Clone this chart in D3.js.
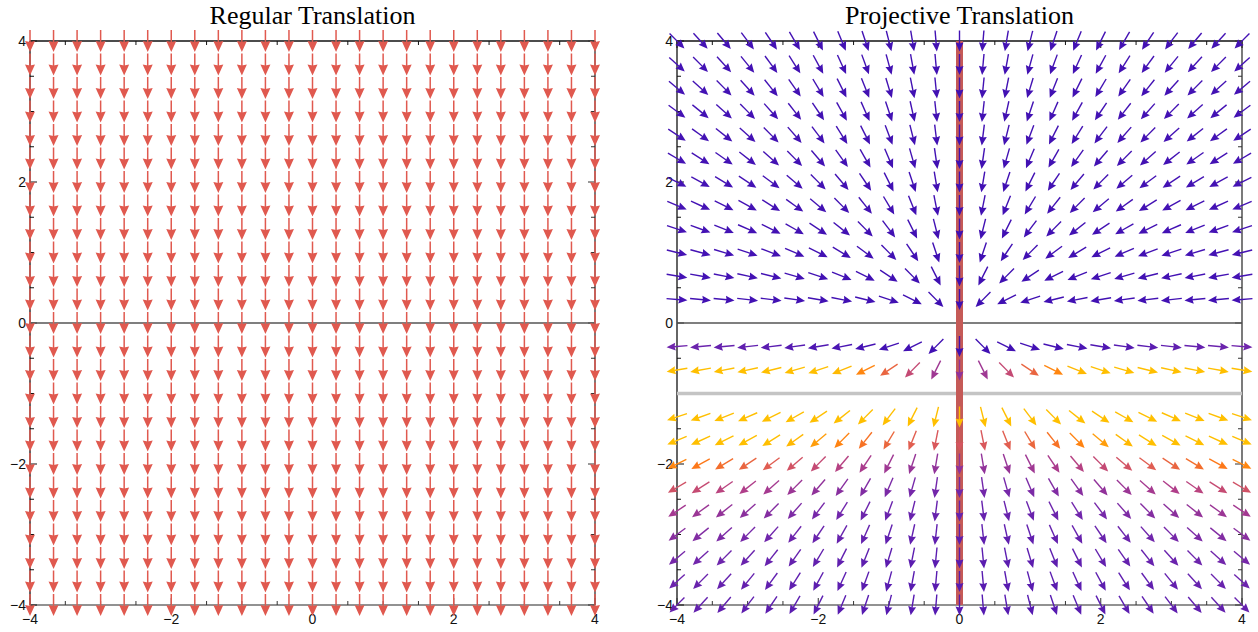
<!DOCTYPE html>
<html>
<head>
<meta charset="utf-8">
<script src="https://cdn.jsdelivr.net/npm/d3@7"></script>
<style>
  body { margin: 0; background: #fff; }
  .tick-label { font-family: "Liberation Sans", Arial, sans-serif; font-size: 14px; fill: #111; }
  .title { font-family: "Liberation Serif", "Times New Roman", serif; font-size: 26px; fill: #000; }
</style>
</head>
<body>
<div id="chart"></div>
<script>
// grid of arrow positions (same for both panels), in plot units
const gridValues = [-4, -11/3, -10/3, -3, -8/3, -7/3, -2, -5/3, -4/3, -1, -2/3, -1/3, 0,
  1/3, 2/3, 1, 4/3, 5/3, 2, 7/3, 8/3, 3, 10/3, 11/3, 4];
// rows of the projective panel: y = 0 and y = -1 are singular, no arrows there
const projectiveRows = [-4, -11/3, -10/3, -3, -8/3, -7/3, -2, -5/3, -4/3, -2/3, -1/3,
  1/3, 2/3, 1, 4/3, 5/3, 2, 7/3, 8/3, 3, 10/3, 11/3, 4];
const majorTicks = [-4, -2, 0, 2, 4];
const minorTicks = [-3.5, -3, -2.5, -1.5, -1, -0.5, 0.5, 1, 1.5, 2.5, 3, 3.5];
const panelTitles = ["Regular Translation", "Projective Translation"];
const singularLineY = -1;   // grey line of the projective panel
const invariantLineX = 0;   // red band of the projective panel

// regular translation: constant downward vector
const regularField = (x, y) => [0, -1];
// projective translation: radial, flips at y = 0, blows up at y = -1
const projectiveField = (x, y) => {
  const k = -y / ((1 + y) * (1 + y));
  return [k * x, k * y];
};

// magnitude -> colour stops
const magnitudeStops = [0, 1, 3, 5, 6.5, 8.5, 11];
const magnitudeColors = ["#3f0fb2", "#4412b4", "#7026ac", "#b03e8a", "#dd5a58", "#ff7a14", "#ffbf00"];

const width = 1258, height = 632;
const svg = d3.select("#chart").append("svg")
  .attr("width", width)
  .attr("height", height);

const colorScale = d3.scaleLinear()
  .domain(magnitudeStops)
  .range(magnitudeColors)
  .clamp(true);

function drawPanel(left, right, title, opts) {
  const top = 41, bottom = 605;
  const x = d3.scaleLinear().domain([-4, 4]).range([left, right]);
  const y = d3.scaleLinear().domain([-4, 4]).range([bottom, top]);
  const g = svg.append("g");

  // title
  g.append("text")
    .attr("class", "title")
    .attr("x", (left + right) / 2)
    .attr("y", 24)
    .attr("text-anchor", "middle")
    .text(title);

  // frame, ticks pointing inward on all four sides
  const frame = g.append("g");
  frame.append("line").attr("x1", left).attr("x2", right).attr("y1", top).attr("y2", top)
    .attr("stroke", "#111").attr("stroke-width", 1.3);
  frame.append("line").attr("x1", left).attr("x2", left).attr("y1", top).attr("y2", bottom)
    .attr("stroke", "#111").attr("stroke-width", 1.3);
  frame.append("line").attr("x1", left).attr("x2", right).attr("y1", bottom).attr("y2", bottom)
    .attr("stroke", "#6e6e6e").attr("stroke-width", 1.5);
  frame.append("line").attr("x1", right).attr("x2", right).attr("y1", top).attr("y2", bottom)
    .attr("stroke", "#333").attr("stroke-width", 1.3);

  const ticks = majorTicks.map(v => ({v, len: 7})).concat(minorTicks.map(v => ({v, len: 4})));
  ticks.forEach(t => {
    frame.append("line").attr("x1", x(t.v)).attr("x2", x(t.v)).attr("y1", top).attr("y2", top + t.len)
      .attr("stroke", "#111");
    frame.append("line").attr("x1", x(t.v)).attr("x2", x(t.v)).attr("y1", bottom).attr("y2", bottom - t.len)
      .attr("stroke", "#333");
    frame.append("line").attr("x1", left).attr("x2", left + t.len).attr("y1", y(t.v)).attr("y2", y(t.v))
      .attr("stroke", "#111");
    frame.append("line").attr("x1", right).attr("x2", right - t.len).attr("y1", y(t.v)).attr("y2", y(t.v))
      .attr("stroke", "#333");
  });

  // tick labels
  const fmt = v => v < 0 ? "\u2212" + Math.abs(v) : String(v);
  g.selectAll(".ylab").data(majorTicks).join("text")
    .attr("class", "tick-label")
    .attr("x", left - 4)
    .attr("y", d => y(d) + 5)
    .attr("text-anchor", "end")
    .text(fmt);
  g.selectAll(".xlab").data(majorTicks).join("text")
    .attr("class", "tick-label")
    .attr("x", d => x(d))
    .attr("y", bottom + 19)
    .attr("text-anchor", "middle")
    .text(fmt);

  // horizontal axis at y = 0
  g.append("line")
    .attr("x1", left).attr("x2", right)
    .attr("y1", y(0)).attr("y2", y(0))
    .attr("stroke", "#555").attr("stroke-width", 1.3);

  if (opts.extras) {
    g.append("line")
      .attr("x1", left).attr("x2", right)
      .attr("y1", y(singularLineY)).attr("y2", y(singularLineY))
      .attr("stroke", "#c4c4c4").attr("stroke-width", 3.5);
    g.append("line")
      .attr("x1", x(invariantLineX)).attr("x2", x(invariantLineX))
      .attr("y1", top).attr("y2", bottom)
      .attr("stroke", "#c55a57").attr("stroke-width", 7);
  }

  // arrows
  const points = [];
  opts.rows.forEach(vy => gridValues.forEach(vx => {
    const [u, v] = opts.field(vx, vy);
    const mag = Math.hypot(u, v);
    if (mag === 0) return;
    points.push({vx, vy, ux: u / mag, uy: -v / mag, mag});
  }));

  const L = opts.len, hl = opts.headLen, hw = opts.headWidth;
  const arrows = g.append("g").selectAll("g").data(points).join("g");
  arrows.each(function(d) {
    const cx = x(d.vx), cy = y(d.vy);
    const sx = cx - d.ux * L / 2, sy = cy - d.uy * L / 2;
    const tx = cx + d.ux * L / 2, ty = cy + d.uy * L / 2;
    const bx = tx - d.ux * hl, by = ty - d.uy * hl;
    const px = -d.uy, py = d.ux;
    const col = opts.color(d);
    const a = d3.select(this);
    a.append("line")
      .attr("x1", sx).attr("y1", sy)
      .attr("x2", bx + d.ux * 1.5).attr("y2", by + d.uy * 1.5)
      .attr("stroke", col).attr("stroke-width", opts.shaft);
    a.append("path")
      .attr("d", `M${tx},${ty}L${bx + px * hw / 2},${by + py * hw / 2}` +
        `L${bx + d.ux * 1},${by + d.uy * 1}L${bx - px * hw / 2},${by - py * hw / 2}Z`)
      .attr("fill", col);
  });
}

drawPanel(30, 595, panelTitles[0], {
  rows: gridValues,
  field: regularField,
  color: () => "#e0594f",
  len: 22, headLen: 11, headWidth: 10, shaft: 1.5
});

drawPanel(677, 1242, panelTitles[1], {
  rows: projectiveRows,
  field: projectiveField,
  color: d => colorScale(d.mag),
  len: 21, headLen: 9, headWidth: 8, shaft: 1.4,
  extras: true
});
</script>
</body>
</html>
